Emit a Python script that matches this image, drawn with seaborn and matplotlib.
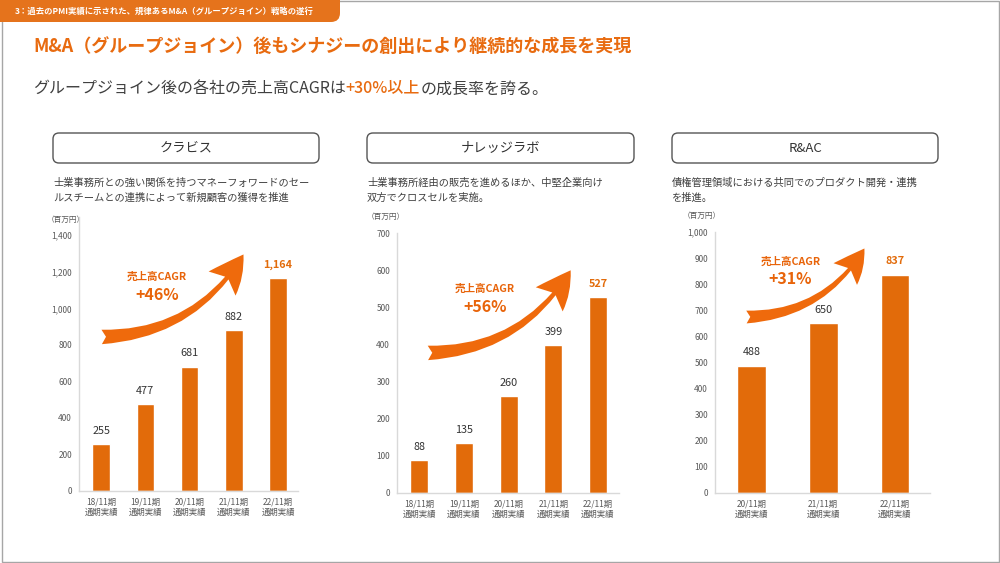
import seaborn as sns
import matplotlib.pyplot as plt
from matplotlib.patches import FancyBboxPatch, FancyArrowPatch, Rectangle

# --- data ---
companies = ['クラビス', 'ナレッジラボ', 'R&AC']
desc_lines = [
    ['士業事務所との強い関係を持つマネーフォワードのセー', 'ルスチームとの連携によって新規顧客の獲得を推進'],
    ['士業事務所経由の販売を進めるほか、中堅企業向け', '双方でクロスセルを実施。'],
    ['債権管理領域における共同でのプロダクト開発・連携', 'を推進。'],
]
periods_kurabis = ['18/11期\n通期実績', '19/11期\n通期実績', '20/11期\n通期実績', '21/11期\n通期実績', '22/11期\n通期実績']
sales_kurabis = [255, 477, 681, 882, 1164]
periods_knowledge = ['18/11期\n通期実績', '19/11期\n通期実績', '20/11期\n通期実績', '21/11期\n通期実績', '22/11期\n通期実績']
sales_knowledge = [88, 135, 260, 399, 527]
periods_rac = ['20/11期\n通期実績', '21/11期\n通期実績', '22/11期\n通期実績']
sales_rac = [488, 650, 837]
cagr_labels = ['+46%', '+56%', '+31%']

ORANGE = '#E26B0A'
TEXT = '#404040'
GRAY = '#595959'

sns.set_style('white')
plt.rcParams['font.family'] = ['Noto Sans CJK JP', 'DejaVu Sans']

W, H = 1000, 563
fig = plt.figure(figsize=(10, 5.63), dpi=100)

# overlay in pixel units for slide decorations
bg = fig.add_axes([0, 0, 1, 1], zorder=0)
bg.set_xlim(0, W)
bg.set_ylim(H, 0)
bg.axis('off')

bg.add_patch(Rectangle((1.5, 1), 997, 560.5, fill=False, edgecolor='#a6a6a6', lw=1))
bg.add_patch(FancyBboxPatch((-30, -30), 370, 52, boxstyle='round,pad=0,rounding_size=9',
                            facecolor='#E5731C', edgecolor='none'))
bg.text(15, 11.5, '3：過去のPMI実績に示された、規律あるM&A（グループジョイン）戦略の遂行',
        color='white', fontsize=6.0, fontweight='bold', va='center')
bg.text(33, 46, 'M&A（グループジョイン）後もシナジーの創出により継続的な成長を実現',
        color='#E86B10', fontsize=13, fontweight='bold', va='center')
t1 = bg.text(33, 89, 'グループジョイン後の各社の売上高CAGRは', color=TEXT, fontsize=11.5, va='center')
t2 = bg.annotate('+30%以上', xy=(1, 0.5), xycoords=t1, color='#E86B10', fontsize=11.5,
                 fontweight='medium', va='center')
bg.annotate('の成長率を誇る。', xy=(1, 0.5), xycoords=t2, color=TEXT, fontsize=11.5, va='center')

# panel layouts in pixels: box, description x, unit label, axes rect
panels = [
    dict(box=(53, 319), unit=(47, 220), ax=(79, 298, 217, 491), ylim=1500, yticks=range(0, 1401, 200),
         xlim=(-0.5, 4.45), periods=periods_kurabis, sales=sales_kurabis,
         tail=(-0.05, 843), tip=(3.25, 1308), cagr=(1.26, 1171, 1073), ms=26),
    dict(box=(367, 634), unit=(367, 217), ax=(397, 619, 233, 493), ylim=700, yticks=range(0, 701, 100),
         xlim=(-0.5, 4.47), periods=periods_knowledge, sales=sales_knowledge,
         tail=(0.13, 377), tip=(3.42, 606), cagr=(1.47, 550, 501), ms=26),
    dict(box=(672, 938), unit=(683, 216), ax=(715, 930, 232, 493), ylim=1000, yticks=range(0, 1001, 100),
         xlim=(-0.51, 2.49), periods=periods_rac, sales=sales_rac,
         tail=(-0.11, 674), tip=(1.595, 946), cagr=(0.54, 885, 820), ms=23),
]

for i, p in enumerate(panels):
    x0, x1 = p['box']
    bg.add_patch(FancyBboxPatch((x0, 133), x1 - x0, 30, boxstyle='round,pad=0,rounding_size=6',
                                facecolor='white', edgecolor='#555555', lw=1))
    bg.text((x0 + x1) / 2, 148, companies[i], color='#333333', fontsize=9.5, ha='center', va='center')
    bg.text(x0, 183, desc_lines[i][0], color=TEXT, fontsize=7.4, va='center')
    bg.text(x0, 198, desc_lines[i][1], color=TEXT, fontsize=7.4, va='center')
    bg.text(p['unit'][0], p['unit'][1], '（百万円）', color=GRAY, fontsize=5.5, va='center')

    l, r, t, b = p['ax']
    ax = fig.add_axes([l / W, (H - b) / H, (r - l) / W, (b - t) / H], zorder=1)
    ax.patch.set_alpha(0)
    sns.barplot(x=p['periods'], y=p['sales'], color=ORANGE, width=0.4, saturation=1, ax=ax)
    ax.set_xlim(*p['xlim'])
    ax.set_ylim(0, p['ylim'])
    ax.set_yticks(list(p['yticks']))
    ax.set_yticklabels([f'{v:,}' for v in p['yticks']])
    ax.tick_params(axis='both', length=0, labelsize=6, labelcolor=GRAY)
    ax.tick_params(axis='y', pad=5)
    ax.tick_params(axis='x', pad=5)
    for s in ['top', 'right']:
        ax.spines[s].set_visible(False)
    for s in ['left', 'bottom']:
        ax.spines[s].set_color('#d9d9d9')
        ax.spines[s].set_linewidth(1)

    n = len(p['sales'])
    for j, v in enumerate(p['sales']):
        last = j == n - 1
        ax.annotate(f'{v:,}', xy=(j, v), xytext=(0, 9.5), textcoords='offset points',
                    ha='center', va='center', fontsize=7.8,
                    color=ORANGE if last else '#333333', fontweight='bold' if last else 'normal')

    arrow = FancyArrowPatch(p['tail'], p['tip'], connectionstyle='arc3,rad=0.28',
                            arrowstyle='fancy,head_length=1.0,head_width=1.0,tail_width=0.4',
                            mutation_scale=p['ms'], color='#EF6A0C', lw=0, clip_on=False)
    ax.add_patch(arrow)
    cx, cy1, cy2 = p['cagr']
    ax.text(cx, cy1, '売上高CAGR', color='#E8640A', fontsize=7.6, fontweight='bold', ha='center', va='center')
    ax.text(cx, cy2, cagr_labels[i], color='#E8640A', fontsize=11.5, fontweight='bold', ha='center', va='center')
    ax.set_xlabel('')
    ax.set_ylabel('')

plt.savefig('out.png', dpi=100)
